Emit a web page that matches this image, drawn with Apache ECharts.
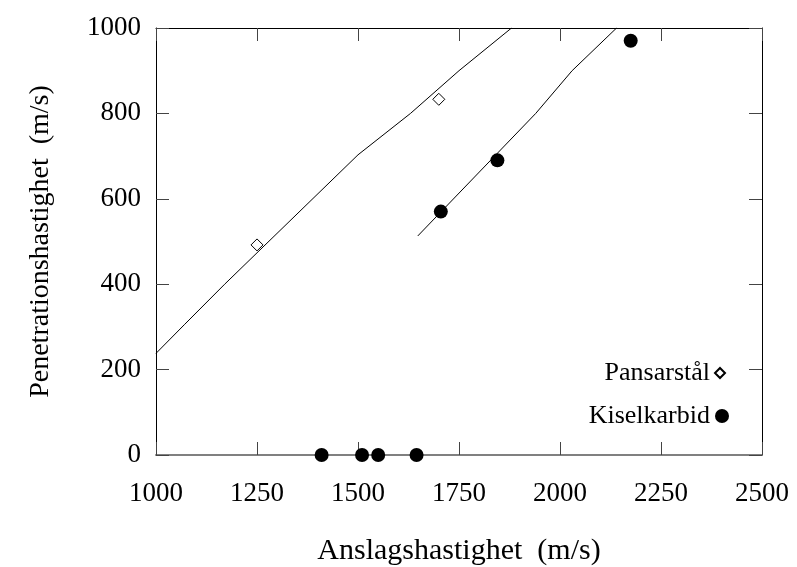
<!DOCTYPE html>
<html>
<head>
<meta charset="utf-8">
<script src="https://cdn.jsdelivr.net/npm/echarts@6/dist/echarts.min.js"></script>
<style>
  html, body { margin: 0; padding: 0; background: #fff; }
  #chart { width: 797px; height: 567px; }
</style>
</head>
<body>
<div id="chart"></div>
<script>
// mätpunkter
const steelX = [1250, 1700];
const steelY = [492, 833];
const sicX = [1410, 1510, 1550, 1645, 1705, 1845, 2175];
const sicY = [0, 0, 0, 0, 570, 690, 970];

// modellkurvor
const steelCurveX = [1000, 1070, 1170, 1500, 1630, 1750, 1880];
const steelCurveY = [238, 305, 400, 703, 800, 900, 1000];
const sicCurveX = [1648, 1940, 2030, 2140];
const sicCurveY = [513, 800, 900, 1000];

const xTicks = [1000, 1250, 1500, 1750, 2000, 2250, 2500];
const yTicks = [0, 200, 400, 600, 800, 1000];

const zip = (xs, ys) => xs.map((x, i) => [x, ys[i]]);
const font = "Liberation Serif";

const chart = echarts.init(document.getElementById("chart"));

const xBase = {
  type: "value",
  min: xTicks[0],
  max: xTicks[xTicks.length - 1],
  interval: 250,
  splitLine: { show: false },
  axisTick: { inside: true, length: 13, lineStyle: { color: "#444" } },
};
const yBase = {
  type: "value",
  min: yTicks[0],
  max: yTicks[yTicks.length - 1],
  interval: 200,
  splitLine: { show: false },
  axisTick: { inside: true, length: 13, lineStyle: { color: "#444" } },
};

const legendText = { fontFamily: font, fontSize: 26, color: "#000" };

chart.setOption({
  animation: false,
  textStyle: { fontFamily: font },
  grid: { left: 156, right: 35, top: 28, bottom: 112, outerBoundsMode: "none" },
  legend: [
    {
      data: ["Pansarstål"],
      align: "right",
      right: 66,
      top: 355,
      itemWidth: 10,
      itemHeight: 10,
      textStyle: legendText,
    },
    {
      data: ["Kiselkarbid"],
      align: "right",
      right: 63,
      top: 398,
      itemWidth: 14,
      itemHeight: 14,
      textStyle: legendText,
    },
  ],
  xAxis: [
    {
      ...xBase,
      position: "bottom",
      name: "Anslagshastighet  (m/s)",
      nameLocation: "middle",
      nameGap: 81,
      nameTextStyle: { fontFamily: font, fontSize: 30, color: "#000" },
      axisLine: { onZero: false, lineStyle: { color: "#808080", width: 2 } },
      axisLabel: {
        fontFamily: font, fontSize: 27, color: "#000", margin: 25,
        formatter: (v) => String(v),
      },
    },
    {
      ...xBase,
      position: "top",
      axisLine: { onZero: false, lineStyle: { color: "#000", width: 1 } },
      axisLabel: { show: false },
    },
  ],
  yAxis: [
    {
      ...yBase,
      position: "left",
      name: "Penetrationshastighet  (m/s)",
      nameLocation: "middle",
      nameGap: 101,
      nameTextStyle: { fontFamily: font, fontSize: 28, color: "#000" },
      axisLine: { show: true, onZero: false, lineStyle: { color: "#000", width: 1 } },
      axisLabel: {
        fontFamily: font, fontSize: 27, color: "#000", margin: 15,
        formatter: (v) => String(v),
      },
    },
    {
      ...yBase,
      position: "right",
      axisLine: { show: true, onZero: false, lineStyle: { color: "#000", width: 1 } },
      axisLabel: { show: false },
    },
  ],
  series: [
    {
      type: "line",
      data: zip(steelCurveX, steelCurveY),
      showSymbol: false,
      lineStyle: { color: "#000", width: 1 },
      silent: true,
    },
    {
      type: "line",
      data: zip(sicCurveX, sicCurveY),
      showSymbol: false,
      lineStyle: { color: "#000", width: 1 },
      silent: true,
    },
    {
      name: "Pansarstål",
      type: "scatter",
      symbol: "diamond",
      symbolSize: 12,
      clip: false,
      itemStyle: { color: "#fff", borderColor: "#000", borderWidth: 1, opacity: 1 },
      data: zip(steelX, steelY),
    },
    {
      name: "Kiselkarbid",
      type: "scatter",
      symbol: "circle",
      symbolSize: 14,
      clip: false,
      itemStyle: { color: "#000", opacity: 1 },
      data: zip(sicX, sicY),
    },
  ],
});
</script>
</body>
</html>
